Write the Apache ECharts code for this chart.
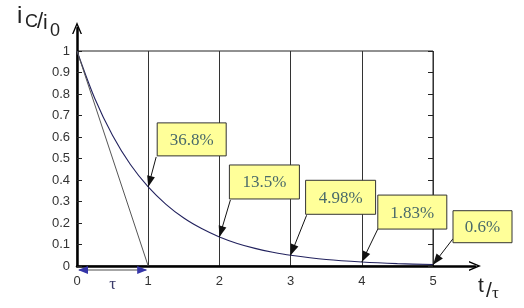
<!DOCTYPE html>
<html><head><meta charset="utf-8">
<script src="https://cdn.jsdelivr.net/npm/echarts@6/dist/echarts.min.js"></script>
<style>html,body{margin:0;padding:0;background:#fff}#c{width:524px;height:308px}</style>
</head><body><div id="c"></div>
<script>
// ---- data ----
const curveT = [0, 0.25, 0.5, 0.75, 1, 1.25, 1.5, 1.75, 2, 2.25, 2.5, 2.75, 3, 3.5, 4, 4.5, 5];
const curveV = [1, 0.779, 0.607, 0.472, 0.368, 0.287, 0.223, 0.174, 0.135, 0.105, 0.082, 0.064, 0.0498, 0.030, 0.0183, 0.011, 0.0067];
const tangentT = [0, 1];
const tangentV = [1, 0];
const annX = [1, 2, 3, 4, 5];
const annY = [0.368, 0.135, 0.0498, 0.0183, 0.006];
const annText = ['36.8%', '13.5%', '4.98%', '1.83%', '0.6%'];
const tauSpan = [[0, 1]];
const xTicks = [0, 1, 2, 3, 4, 5];
const yTicks = [0, 0.1, 0.2, 0.3, 0.4, 0.5, 0.6, 0.7, 0.8, 0.9, 1];

// ---- layout / style (pixel offsets of annotation boxes relative to the pointed value) ----
const boxLayout = [
  {dx: 9,  dy: -64, w: 69, h: 33, sx: -1, sy: 1},
  {dx: 10, dy: -72, w: 70, h: 34, sx: 1,  sy: 1},
  {dx: 15, dy: -75, w: 70, h: 34, sx: 1,  sy: 1},
  {dx: 16, dy: -67, w: 69, h: 34, sx: 0,  sy: 0},
  {dx: 20, dy: -54, w: 59, h: 32, sx: 0,  sy: -4}
];

const chart = echarts.init(document.getElementById('c'), null, {renderer: 'canvas'});
const chev = 'path://M0,12 L5,0 L10,12 L8.6,12 L5,3.6 L1.4,12 Z';
const sans = '"Liberation Sans", Arial, sans-serif';
const serif = '"Liberation Serif", "Times New Roman", serif';

function arrowHead(tip, from, len, wid, color) {
  const ang = Math.atan2(tip[1] - from[1], tip[0] - from[0]);
  const bx = tip[0] - len * Math.cos(ang), by = tip[1] - len * Math.sin(ang);
  const nx = -Math.sin(ang) * wid / 2, ny = Math.cos(ang) * wid / 2;
  return {type: 'polygon', shape: {points: [tip, [bx + nx, by + ny], [bx - nx, by - ny]]}, style: {fill: color}};
}

chart.setOption({
  animation: false,
  grid: [
    {left: 77, right: 91, top: 51, bottom: 42, show: true, borderColor: '#222', borderWidth: 1, backgroundColor: 'transparent'},
    {left: 77, right: 49, top: 28, bottom: 42}
  ],
  xAxis: [
    {gridIndex: 0, type: 'value', min: 0, max: 5, interval: 1,
     axisLine: {show: false}, axisTick: {show: false},
     splitLine: {show: true, lineStyle: {color: '#333', width: 1}},
     axisLabel: {fontFamily: sans, fontSize: 13, color: '#333', margin: 9,
       formatter: v => xTicks.includes(v) ? String(v) : ''}},
    {gridIndex: 1, type: 'value', min: 0, max: 1, axisLabel: {show: false}, axisTick: {show: false}, splitLine: {show: false},
     axisLine: {show: true, symbol: ['none', chev], symbolSize: [10, 12], symbolOffset: [0, 0], lineStyle: {color: '#000', width: 2.5}}}
  ],
  yAxis: [
    {gridIndex: 0, type: 'value', min: 0, max: 1, interval: 0.1,
     axisLine: {show: false}, splitLine: {show: false},
     axisTick: {show: true, inside: true, length: 5, lineStyle: {color: '#222'}},
     axisLabel: {fontFamily: sans, fontSize: 13, color: '#333', margin: 7,
       formatter: v => { const r = Math.round(v * 10) / 10; return yTicks.includes(r) ? String(r) : ''; }}},
    {gridIndex: 0, type: 'value', min: 0, max: 1, interval: 0.1, position: 'right',
     axisLine: {show: false}, splitLine: {show: false}, axisLabel: {show: false},
     axisTick: {show: true, inside: true, length: 5, lineStyle: {color: '#222'}}},
    {gridIndex: 1, type: 'value', min: 0, max: 1, axisLabel: {show: false}, axisTick: {show: false}, splitLine: {show: false},
     axisLine: {show: true, symbol: ['none', chev], symbolSize: [10, 12], lineStyle: {color: '#000', width: 2.5}}}
  ],
  graphic: [
    {type: 'text', left: 17, top: 4, style: {text: 'i', font: '24px ' + sans, fill: '#222'}},
    {type: 'text', left: 25, top: 13, style: {text: 'C', font: '18px ' + sans, fill: '#222'}},
    {type: 'text', left: 37, top: 11, style: {text: '/', font: '22px ' + sans, fill: '#222'}},
    {type: 'text', left: 43, top: 13, style: {text: 'i', font: '21px ' + sans, fill: '#222'}},
    {type: 'text', left: 50, top: 22, style: {text: '0', font: '18px ' + sans, fill: '#222'}},
    {type: 'text', left: 478, top: 276, style: {text: 't', font: '21px ' + sans, fill: '#222'}},
    {type: 'text', left: 486, top: 281, style: {text: '/', font: '21px ' + sans, fill: '#222'}},
    {type: 'text', left: 492, top: 285, style: {text: 'τ', font: '17px ' + serif, fill: '#222'}}
  ],
  series: [
    {type: 'line', xAxisIndex: 0, yAxisIndex: 0, data: curveT.map((t, i) => [t, curveV[i]]),
     smooth: 0.3, showSymbol: false, lineStyle: {color: '#22225e', width: 1.1}, z: 3},
    {type: 'line', xAxisIndex: 0, yAxisIndex: 0, data: tangentT.map((t, i) => [t, tangentV[i]]),
     showSymbol: false, lineStyle: {color: '#555', width: 1}, z: 3},
    {type: 'custom', xAxisIndex: 0, yAxisIndex: 0, clip: false, z: 5,
     data: annX.map((x, i) => [x, annY[i]]),
     renderItem: (params, api) => {
       const i = params.dataIndex;
       const p = api.coord([api.value(0), api.value(1)]);
       const L = boxLayout[i];
       const bx = p[0] + L.dx, by = p[1] + L.dy;
       const s = [bx + L.sx, by + L.h + L.sy];
       return {type: 'group', children: [
         {type: 'line', shape: {x1: s[0], y1: s[1], x2: p[0], y2: p[1]}, style: {stroke: '#111', lineWidth: 1}},
         arrowHead(p, s, 11, 8, '#111'),
         {type: 'rect', shape: {x: bx, y: by, width: L.w, height: L.h}, style: {fill: '#ffff99', stroke: '#333', lineWidth: 1}},
         {type: 'text', x: bx + L.w / 2, y: by + L.h / 2 + 1,
          style: {text: annText[i], font: '17px ' + serif, fill: '#4a6a6a', align: 'center', verticalAlign: 'middle'}}
       ]};
     }},
    {type: 'custom', xAxisIndex: 0, yAxisIndex: 0, clip: false, z: 6,
     data: tauSpan,
     renderItem: (params, api) => {
       const a = api.coord([api.value(0), 0]);
       const b = api.coord([api.value(1), 0]);
       const y = a[1] + 4;
       const col = '#3535a8';
       return {type: 'group', children: [
         {type: 'line', shape: {x1: a[0] + 2, y1: y, x2: b[0] - 2, y2: y}, style: {stroke: '#888', lineWidth: 1.5}},
         arrowHead([a[0] + 1, y], [a[0] + 20, y], 10, 8, col),
         arrowHead([b[0] - 1, y], [b[0] - 20, y], 10, 8, col),
         {type: 'text', x: (a[0] + b[0]) / 2, y: y + 15,
          style: {text: 'τ', font: '17px ' + serif, fill: '#3a3a6a', align: 'center', verticalAlign: 'middle'}}
       ]};
     }}
  ]
});
</script></body></html>
